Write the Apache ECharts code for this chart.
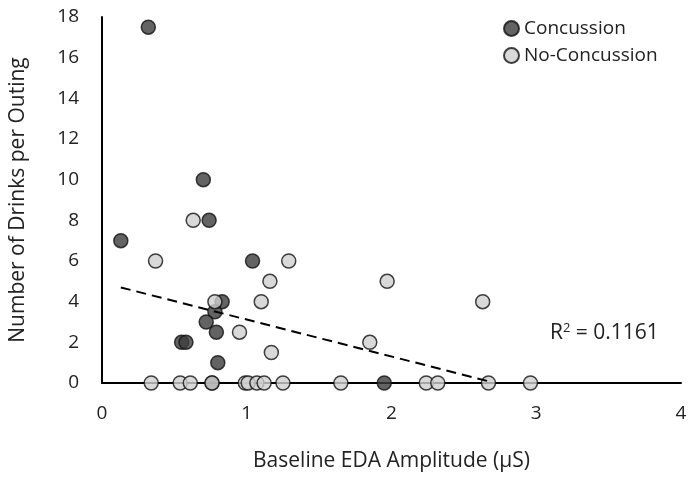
<!DOCTYPE html>
<html><head><meta charset="utf-8">
<script src="https://cdn.jsdelivr.net/npm/echarts@6/dist/echarts.min.js"></script>
<style>html,body{margin:0;padding:0;background:#fff}#c{width:691px;height:477px}</style>
</head><body><div id="c"></div>
<script>
const concussionX = [0.32, 0.13, 0.70, 0.74, 1.04, 0.83, 0.78, 0.72, 0.55, 0.58, 0.79, 0.80, 0.76, 1.95];
const concussionY = [17.5, 7, 10, 8, 6, 4, 3.5, 3, 2, 2, 2.5, 1, 0, 0];
const noConcX = [0.63, 0.37, 1.29, 1.16, 0.78, 1.10, 0.95, 1.17, 1.85, 1.97, 2.63,
  0.34, 0.54, 0.61, 0.76, 0.99, 1.01, 1.07, 1.12, 1.25, 1.65, 2.24, 2.32, 2.67, 2.96];
const noConcY = [8, 6, 6, 5, 4, 4, 2.5, 1.5, 2, 5, 4,
  0, 0, 0, 0, 0, 0, 0, 0, 0, 0, 0, 0, 0, 0];
const trendX = [0.13, 2.69];
const trendY = [4.7, 0.05];
const xTicks = [0, 1, 2, 3, 4];
const yTicks = [0, 2, 4, 6, 8, 10, 12, 14, 16, 18];
const seriesNames = ['Concussion', 'No-Concussion'];
const rSquared = '0.1161';

const zip = (a, b) => a.map((v, i) => [v, b[i]]);
const font = '"Open Sans", "Noto Sans", sans-serif';
const txt = '#222';
const chart = echarts.init(document.getElementById('c'), null, {renderer: 'canvas'});
chart.setOption({
  animation: false,
  backgroundColor: '#fff',
  textStyle: {fontFamily: font},
  grid: {left: 101, right: 10, top: 17, bottom: 93, containLabel: false},
  legend: {
    data: seriesNames, orient: 'vertical', left: 503, top: 19,
    itemWidth: 15, itemHeight: 15, itemGap: 8, padding: 0,
    textStyle: {fontFamily: font, fontSize: 19, color: txt}
  },
  xAxis: {
    type: 'value', min: xTicks[0], max: xTicks[xTicks.length - 1], interval: 1,
    name: 'Baseline EDA Amplitude (µS)', nameLocation: 'middle', nameGap: 68,
    nameTextStyle: {fontFamily: font, fontSize: 21, color: txt},
    axisLine: {show: true, lineStyle: {color: '#000', width: 2}},
    axisTick: {show: false}, splitLine: {show: false},
    axisLabel: {fontFamily: font, fontSize: 19, color: txt, margin: 21}
  },
  yAxis: {
    type: 'value', min: yTicks[0], max: yTicks[yTicks.length - 1], interval: 2,
    name: 'Number of Drinks per Outing', nameLocation: 'middle', nameGap: 73,
    nameTextStyle: {fontFamily: font, fontSize: 21, color: txt},
    axisLine: {show: true, lineStyle: {color: '#000', width: 2}},
    axisTick: {show: false}, splitLine: {show: false},
    axisLabel: {fontFamily: font, fontSize: 19, color: txt, margin: 23}
  },
  series: [
    {name: seriesNames[0], type: 'scatter', symbol: 'circle', symbolSize: 14,
     data: zip(concussionX, concussionY), z: 3,
     itemStyle: {color: '#3c3c3c', borderColor: '#111', borderWidth: 1.5}},
    {name: seriesNames[1], type: 'scatter', symbol: 'circle', symbolSize: 14,
     data: zip(noConcX, noConcY), z: 4,
     itemStyle: {color: '#d0d0d0', borderColor: '#111', borderWidth: 1.5}},
    {name: 'trend', type: 'line', data: zip(trendX, trendY), symbol: 'none', z: 5,
     lineStyle: {color: '#000', width: 2, type: [10, 6]}}
  ],
  graphic: [{
    type: 'text', left: 550, top: 322, z: 10,
    style: {
      text: 'R{sup|2} = ' + rSquared,
      fontFamily: font, fontSize: 21, fill: txt,
      rich: {sup: {fontSize: 13, verticalAlign: 'top', padding: [0, 0, 9, 0], fontFamily: font, fill: txt}}
    }
  }]
});
</script></body></html>
